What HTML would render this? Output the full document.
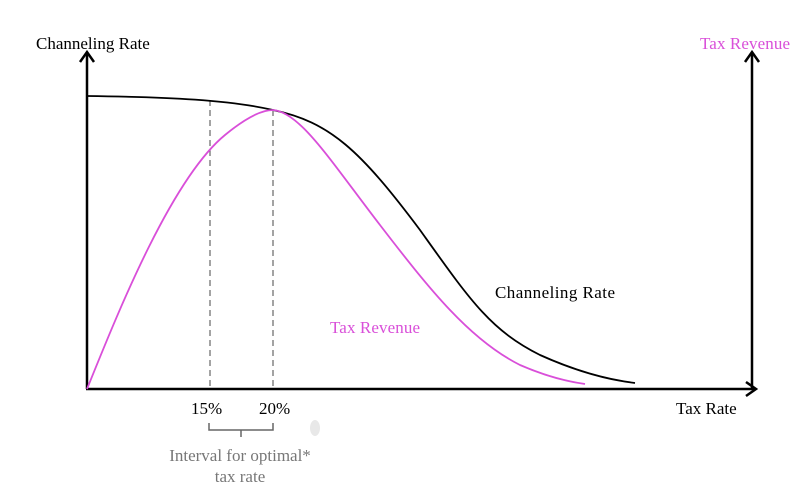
<!DOCTYPE html>
<html><head><style>
html,body{margin:0;padding:0;background:#fff;}
svg{display:block;}
text{font-family:"Liberation Serif",serif;}
</style></head><body>
<svg width="810" height="496" viewBox="0 0 810 496" xmlns="http://www.w3.org/2000/svg">
<line x1="87" y1="389" x2="87" y2="54" stroke="#000" stroke-width="2.5"/>
<path d="M80,62 L87,52 L94,62" fill="none" stroke="#000" stroke-width="2.5"/>
<line x1="752" y1="389" x2="752" y2="54" stroke="#000" stroke-width="2.5"/>
<path d="M745,62 L752,52 L759,62" fill="none" stroke="#000" stroke-width="2.5"/>
<line x1="86" y1="389" x2="754" y2="389" stroke="#000" stroke-width="2.5"/>
<path d="M746,382 L756,389 L746,396" fill="none" stroke="#000" stroke-width="2.5"/>
<line x1="210" y1="100" x2="210" y2="389" stroke="#666" stroke-width="1.2" stroke-dasharray="6,4"/>
<line x1="273" y1="110" x2="273" y2="389" stroke="#666" stroke-width="1.2" stroke-dasharray="6,4"/>
<path d="M87,96 C170,97 230,100 273,110 C330,122 360,150 420,230 C470,300 490,330 540,355 C580,373 610,380 635,383" fill="none" stroke="#000" stroke-width="1.8"/>
<path d="M87,389 C115,320 170,180 225,135 C248,116 263,110 273,110 C300,112 330,160 380,225 C430,290 470,340 520,365 C550,378 570,382 585,384" fill="none" stroke="#d94fd9" stroke-width="1.8"/>
<text x="36" y="49" font-size="17">Channeling Rate</text>
<text x="700" y="49" font-size="17" fill="#d94fd9" textLength="90">Tax Revenue</text>
<text x="495" y="298" font-size="17" textLength="120">Channeling Rate</text>
<text x="330" y="333" font-size="17" fill="#d94fd9" textLength="90">Tax Revenue</text>
<text x="676" y="414" font-size="17">Tax Rate</text>
<text x="191" y="414" font-size="17">15%</text>
<text x="259" y="414" font-size="17">20%</text>
<path d="M209,423 L209,430 L273,430 L273,423 M241,430 L241,437" fill="none" stroke="#666" stroke-width="1.5"/>
<text x="240" y="461" font-size="17" fill="#777" text-anchor="middle">Interval for optimal*</text>
<text x="240" y="482" font-size="17" fill="#777" text-anchor="middle">tax rate</text>
<ellipse cx="315" cy="428" rx="5" ry="8" fill="#e8e8e8"/>
</svg>
</body></html>
